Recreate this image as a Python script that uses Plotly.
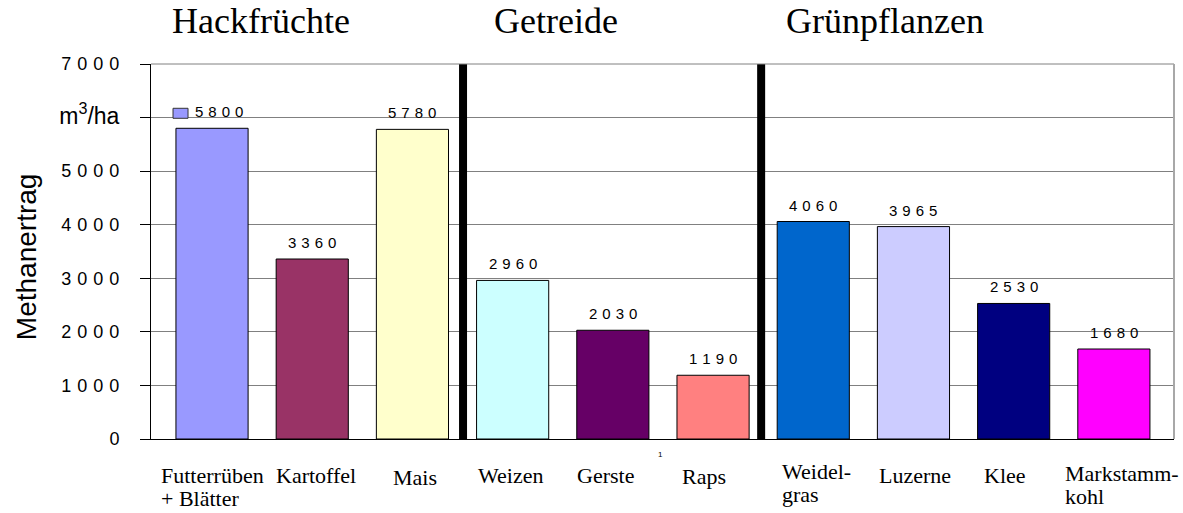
import plotly.graph_objects as go

# ---- data ----
categories = ["Futterrüben<br>+ Blätter", "Kartoffel", "Mais", "Weizen", "Gerste", "Raps",
              "Weidel-<br>gras", "Luzerne", "Klee", "Markstamm-<br>kohl"]
values = [5800, 3360, 5780, 2960, 2030, 1190, 4060, 3965, 2530, 1680]
colors = ["#9999FF", "#993366", "#FFFFCC", "#CCFFFF", "#660066", "#FF8080",
          "#0066CC", "#CCCCFF", "#000080", "#FF00FF"]
groups = ["Hackfrüchte", "Getreide", "Grünpflanzen"]
y_ticks = [0, 1000, 2000, 3000, 4000, 5000, 6000, 7000]
unit_label = "m<sup>3</sup>/ha"
y_title = "Methanertrag"

# ---- styling helpers ----
SP = "\u2004"  # three-per-em space to imitate letter spacing


def spaced(v):
    return SP.join(str(v))


x_idx = list(range(len(categories)))
group_x = [0.49, 3.43, 6.72]          # title positions (decoration)
separators = [2.505, 5.48]             # thick group separators
label_left = [-53, -38, -21, -37, -38, -33, -33, -36, -32, -51]   # left edge offsets (px)
label_dy = [0, 0, 2, 0, 0, 1, -4, 0, 0, -2]                     # baseline nudges (px)
LINE = 23

fig = go.Figure()
fig.add_trace(go.Bar(
    x=x_idx, y=values, width=0.72,
    marker=dict(color=colors, line=dict(color="black", width=1)),
    hoverinfo="skip", showlegend=False,
))

ticktext = []
for t in y_ticks:
    if t == 6000:
        ticktext.append('<span style="font-size:23px">' + unit_label + "</span>")
    else:
        ticktext.append(spaced(t))

annotations = []
# data labels
for i, v in enumerate(values):
    annotations.append(dict(
        x=i, y=v, xref="x", yref="y", text=spaced(v), showarrow=False,
        yanchor="bottom", xanchor="center", yshift=6, xshift=7 if i == 0 else 0,
        font=dict(family="Liberation Sans, Arial", size=15, color="black"),
    ))
# category labels (one annotation per text line, tight line spacing)
for i, c in enumerate(categories):
    for k, line in enumerate(c.split("<br>")):
        annotations.append(dict(
            x=i, y=0, xref="x", yref="paper", text=line, showarrow=False,
            yanchor="top", xanchor="left",
            xshift=label_left[i], yshift=-22 - label_dy[i] - LINE * k,
            font=dict(family="Liberation Serif, Times New Roman", size=22, color="black"),
        ))
# group titles
for gx, g in zip(group_x, groups):
    annotations.append(dict(
        x=gx, y=1, xref="x", yref="paper", text=g, showarrow=False,
        yanchor="bottom", xanchor="center", yshift=22, borderpad=0,
        font=dict(family="Liberation Serif, Times New Roman", size=36, color="black"),
    ))
# y title
annotations.append(dict(
    x=0, y=0.485, xref="paper", yref="paper", text=y_title, showarrow=False,
    textangle=-90, xanchor="center", yanchor="middle", xshift=-125,
    font=dict(family="Liberation Sans, Arial", size=28, color="black"),
))
# small footnote mark
annotations.append(dict(
    x=4.48, y=0, xref="x", yref="paper", text="1", showarrow=False,
    xanchor="center", yanchor="middle", yshift=-15,
    font=dict(family="Liberation Sans, Arial", size=8, color="black"),
))

shapes = []
for s in separators:
    shapes.append(dict(type="line", xref="x", yref="paper", x0=s, x1=s, y0=0, y1=1,
                       line=dict(color="black", width=8), layer="above"))
# top border & right border
shapes.append(dict(type="line", xref="paper", yref="paper", x0=0, x1=1, y0=1, y1=1,
                   line=dict(color="#808080", width=1)))
shapes.append(dict(type="line", xref="paper", yref="paper", x0=1, x1=1, y0=0, y1=1,
                   line=dict(color="#A8A8A8", width=2)))
# stray legend key next to the first label
shapes.append(dict(type="rect", xref="x", yref="y", xsizemode="pixel", ysizemode="pixel",
                   xanchor=0, yanchor=values[0], x0=-39, x1=-24, y0=10, y1=20,
                   fillcolor=colors[0], line=dict(color="#333333", width=1)))

fig.update_layout(
    width=1183, height=513,
    margin=dict(l=151, r=9, t=64, b=74),
    plot_bgcolor="white", paper_bgcolor="white",
    bargap=0,
    xaxis=dict(range=[-0.609, 9.60], showticklabels=False, ticks="",
               showgrid=False, zeroline=False, showline=True,
               linecolor="black", linewidth=1),
    yaxis=dict(range=[0, 7000], tickvals=y_ticks, ticktext=ticktext,
               ticks="outside", ticklen=10, tickcolor="black", tickwidth=1,
               ticklabelstandoff=17,
               showgrid=True, gridcolor="#808080", gridwidth=1, zeroline=False,
               showline=True, linecolor="black", linewidth=1,
               tickfont=dict(family="Liberation Sans, Arial", size=18, color="black")),
    annotations=annotations,
    shapes=shapes,
    font=dict(family="Liberation Sans, Arial", color="black"),
)

fig.write_html(
    "out.html",
    config={"displayModeBar": False, "staticPlot": True},
    post_script="document.body.style.margin='0';document.body.style.padding='0';"
                "document.body.style.overflow='hidden';",
)
